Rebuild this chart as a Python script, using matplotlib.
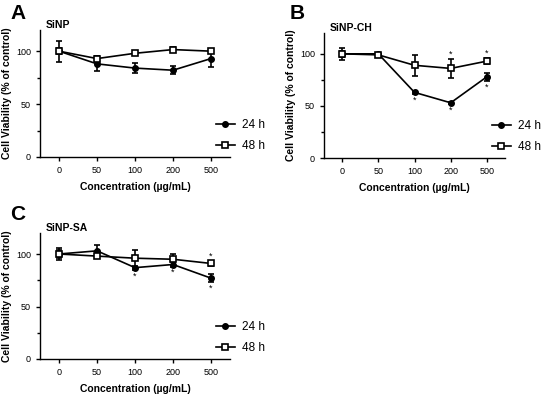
import matplotlib
matplotlib.use("Agg")
import matplotlib.pyplot as plt
from matplotlib.ticker import MultipleLocator
from matplotlib.lines import Line2D

plt.rcParams['font.family'] = ['Liberation Sans', 'DejaVu Sans']

# ---- data ----
conc_labels = ["0", "50", "100", "200", "500"]

# panel A: SiNP
a_24 = [100, 88, 84, 82, 93]
a_24_err = [10, 7, 5, 4, 8]
a_48 = [100, 93, 98, 101.5, 100]
a_48_err = [3, 2, 1.5, 2.5, 2]

# panel B: SiNP-CH
b_24 = [100, 100, 63, 53, 78]
b_24_err = [3, 1, 1.5, 1, 4]
b_48 = [100, 99, 89, 86, 93]
b_48_err = [6, 2, 10, 9, 3]

# panel C: SiNP-SA
c_24 = [100, 103, 87, 90, 77]
c_24_err = [4, 6, 2, 2, 4]
c_48 = [100, 98, 96, 95, 91]
c_48_err = [6, 2, 8, 5, 2]

# significance marks (index of concentration)
b_24_star = [2, 3, 4]
b_48_star = [3, 4]
c_24_star = [2, 3, 4]
c_48_star = [4]

W, H = 550, 396
fig = plt.figure(figsize=(W / 100, H / 100), dpi=100)


def px_axes(left, top, right, bottom):
    return fig.add_axes([left / W, 1 - bottom / H, (right - left) / W, (bottom - top) / H])


def panel(ax, y24, e24, y48, e48, title, s24=(), s48=()):
    x = range(len(conc_labels))
    ax.errorbar(x, y24, yerr=e24, color="black", marker="o", ms=4, lw=1.2,
                capsize=2.5, elinewidth=1.2, capthick=1.2, zorder=3)
    ax.errorbar(x, y48, yerr=e48, color="black", marker="s", ms=5, mfc="white",
                mec="black", mew=1.2, lw=1.2, capsize=2.5, elinewidth=1.2,
                capthick=1.2, zorder=4)
    for i in s24:
        ax.text(i, y24[i] - e24[i] - 1.5, "*", ha="center", va="top", fontsize=6.5)
    for i in s48:
        ax.text(i, y48[i] + e48[i] + 0.5, "*", ha="center", va="bottom", fontsize=6.5)
    ax.set_xlim(-0.5, 4.5)
    ax.set_ylim(0, 120)
    ax.set_xticks(list(x))
    ax.set_xticklabels(conc_labels)
    ax.set_yticks([0, 50, 100])
    ax.yaxis.set_minor_locator(MultipleLocator(25))
    ax.tick_params(axis="both", labelsize=6.5, width=1, length=3, colors="black")
    ax.tick_params(axis="y", which="minor", length=2, width=1)
    for s in ["top", "right"]:
        ax.spines[s].set_visible(False)
    for s in ["left", "bottom"]:
        ax.spines[s].set_linewidth(1)
    ax.set_xlabel("Concentration (\u00b5g/mL)", fontsize=7.5, fontweight="bold", labelpad=5)
    ax.set_ylabel("Cell Viability (% of control)", fontsize=7.5, fontweight="bold", labelpad=3)
    ax.text(0.03, 1.0, title, transform=ax.transAxes, fontsize=7.5,
            fontweight="bold", va="bottom", ha="left")
    handles = [Line2D([], [], color="black", marker="o", ms=4, lw=1.2),
               Line2D([], [], color="black", marker="s", ms=5, mfc="white", mew=1.2, lw=1.2)]
    ax.legend(handles, ["24 h", "48 h"], loc="lower left", bbox_to_anchor=(0.9, 0.0),
              frameon=False, fontsize=8.5, handlelength=1.6, handletextpad=0.6,
              labelspacing=0.75, borderaxespad=0)


axA = px_axes(40, 30, 230, 157)
panel(axA, a_24, a_24_err, a_48, a_48_err, "SiNP")
axB = px_axes(324, 33, 505, 158)
panel(axB, b_24, b_24_err, b_48, b_48_err, "SiNP-CH", b_24_star, b_48_star)
axC = px_axes(40, 233, 230, 359)
panel(axC, c_24, c_24_err, c_48, c_48_err, "SiNP-SA", c_24_star, c_48_star)

for lbl, xp, yp in [("A", 10, 4), ("B", 290, 4), ("C", 10, 205)]:
    fig.text(xp / W, 1 - yp / H, lbl, fontsize=15, fontweight="bold", va="top", ha="left")

fig.savefig("out.png", dpi=100)
